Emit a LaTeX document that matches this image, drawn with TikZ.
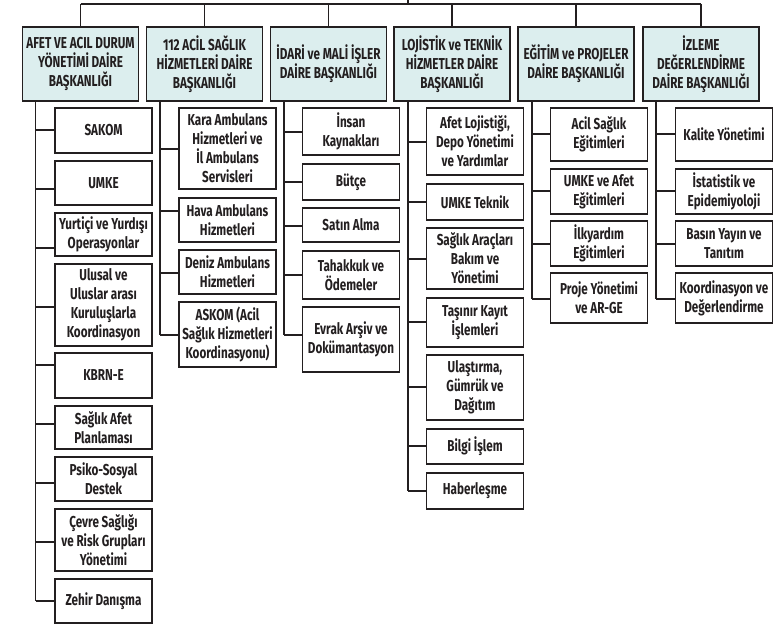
\documentclass[tikz,border=0pt]{standalone}
\usepackage{fontspec}
\setmainfont{Fira Sans}[FakeStretch=0.74]
\definecolor{hfill}{RGB}{220,238,238}
\definecolor{ink}{RGB}{35,31,32}
\tikzset{
  conn/.style={draw=ink, line width=1.1pt},
  hbox/.style={draw=ink, line width=1.1pt, fill=hfill, minimum width=116pt, minimum height=74pt,
    align=center, inner sep=0pt, font=\fontsize{15.8}{19}\selectfont\bfseries, text=ink},
  cbox/.style={draw=ink, line width=1.1pt, fill=white, minimum width=97pt,
    align=center, inner sep=0pt, font=\fontsize{15.8}{19}\selectfont\bfseries, text=ink},
}
\newcommand\bx[5]{\node[cbox, minimum height=#4pt] (#1) at (#2,#3) {#5};}
\newcommand\cn[3]{\draw[conn] (#1,#2) -- (#3.west |- #1,#2);}
\begin{document}
\begin{tikzpicture}[x=1pt,y=-1pt]
\useasboundingbox (0,0) rectangle (773,631);
% headers
\node[hbox] (h1) at (80.5,64) {AFET VE ACIL DURUM\\YÖNETİMİ DAİRE\\BAŞKANLIĞI};
\node[hbox] (h2) at (204.5,64) {112 ACİL SAĞLIK\\HİZMETLERİ DAİRE\\BAŞKANLIĞI};
\node[hbox] (h3) at (328.5,64) {İDARİ ve MALİ İŞLER\\DAİRE BAŞKANLIĞI};
\node[hbox] (h4) at (452,64) {LOJİSTİK ve TEKNİK\\HİZMETLER DAİRE\\BAŞKANLIĞI};
\node[hbox] (h5) at (576,64) {EĞİTİM ve PROJELER\\DAİRE BAŞKANLIĞI};
\node[hbox] (h6) at (701,64) {İZLEME\\DEĞERLENDİRME\\DAİRE BAŞKANLIĞI};
% top bar
\coordinate (top) at (408,0);
\draw[conn] (h1.north |- 0,4) -- (h6.north |- 0,4);
\draw[conn] (top) -- (408,4);
\foreach \h in {h1,h2,h3,h4,h5,h6}{\draw[conn] (\h.north |- 0,4) -- (\h.north);}
% column 1
\bx{sakom}{103.5}{130.5}{45}{SAKOM}
\bx{umke}{103.5}{183}{44}{UMKE}
\bx{yurt}{103.5}{234.5}{43}{Yurtiçi ve Yurdışı\\Operasyonlar}
\bx{ulusal}{103.5}{305}{82}{Ulusal ve\\Uluslar arası\\Kuruluşlarla\\Koordinasyon}
\bx{kbrn}{103.5}{375.5}{45}{KBRN-E}
\bx{safet}{103.5}{427.5}{43}{Sağlık Afet\\Planlaması}
\bx{psiko}{103.5}{479}{44}{Psiko-Sosyal\\Destek}
\bx{cevre}{103.5}{540}{62}{Çevre Sağlığı\\ve Risk Grupları\\Yönetimi}
\bx{zehir}{103.5}{601}{44}{Zehir Danışma}
\draw[conn] (h1.south -| 35.7,0) -- (35.7,601);
\cn{35.7}{130}{sakom}\cn{35.7}{189}{umke}\cn{35.7}{248}{yurt}\cn{35.7}{307}{ulusal}
\cn{35.7}{365}{kbrn}\cn{35.7}{424}{safet}\cn{35.7}{483}{psiko}\cn{35.7}{542}{cevre}\cn{35.7}{601}{zehir}
% column 2
\bx{kara}{227.5}{148.5}{81}{Kara Ambulans\\Hizmetleri ve\\İl Ambulans\\Servisleri}
\bx{hava}{227.5}{220}{44}{Hava Ambulans\\Hizmetleri}
\bx{deniz}{227.5}{272}{44}{Deniz Ambulans\\Hizmetleri}
\bx{askom}{227.5}{334.5}{65}{ASKOM (Acil\\Sağlık Hizmetleri\\Koordinasyonu)}
\draw[conn] (h2.south -| 160,0) -- (160,335);
\cn{160}{149}{kara}\cn{160}{211}{hava}\cn{160}{273}{deniz}\cn{160}{335}{askom}
% column 3
\bx{insan}{351}{131.5}{47}{İnsan\\Kaynakları}
\bx{butce}{351}{182}{36}{Bütçe}
\bx{satin}{351}{225}{34}{Satın Alma}
\bx{tahak}{351}{275}{48}{Tahakkuk ve\\Ödemeler}
\bx{evrak}{351}{339.5}{65}{Evrak Arşiv ve\\Dokümantasyon}
\draw[conn] (h3.south -| 284,0) -- (284,335);
\cn{284}{132}{insan}\cn{284}{182}{butce}\cn{284}{226}{satin}\cn{284}{275}{tahak}\cn{284}{335}{evrak}
% column 4
\bx{afetloj}{475}{141.5}{67}{Afet Lojistiği,\\Depo Yönetimi\\ve Yardımlar}
\bx{umket}{475}{202}{36}{UMKE Teknik}
\bx{sarac}{475}{258.5}{61}{Sağlık Araçları\\Bakım ve\\Yönetimi}
\bx{tasinir}{475}{322.5}{49}{Taşınır Kayıt\\İşlemleri}
\bx{ulas}{475}{387.5}{65}{Ulaştırma,\\Gümrük ve\\Dağıtım}
\bx{bilgi}{475}{446.5}{35}{Bilgi İşlem}
\bx{haber}{475}{491}{36}{Haberleşme}
\draw[conn] (h4.south -| 408,0) -- (408,491);
\cn{408}{142}{afetloj}\cn{408}{202}{umket}\cn{408}{259}{sarac}\cn{408}{322}{tasinir}
\cn{408}{387}{ulas}\cn{408}{446}{bilgi}\cn{408}{491}{haber}
% column 5
\bx{acil}{599}{134.5}{53}{Acil Sağlık\\Eğitimleri}
\bx{umkeaf}{599}{191.5}{45}{UMKE ve Afet\\Eğitimleri}
\bx{ilk}{599}{243.5}{45}{İlkyardım\\Eğitimleri}
\bx{proje}{599}{298}{50}{Proje Yönetimi\\ve AR-GE}
\draw[conn] (h5.south -| 532,0) -- (532,299);
\cn{532}{134}{acil}\cn{532}{191}{umkeaf}\cn{532}{244}{ilk}\cn{532}{299}{proje}
% column 6
\bx{kalite}{724}{134.5}{53}{Kalite Yönetimi}
\bx{istat}{724}{191.5}{45}{İstatistik ve\\Epidemiyoloji}
\bx{basin}{724}{243.5}{45}{Basın Yayın ve\\Tanıtım}
\bx{koord}{724}{298}{50}{Koordinasyon ve\\Değerlendirme}
\draw[conn] (h6.south -| 656,0) -- (656,299);
\cn{656}{134}{kalite}\cn{656}{191}{istat}\cn{656}{244}{basin}\cn{656}{299}{koord}
\end{tikzpicture}
\end{document}
